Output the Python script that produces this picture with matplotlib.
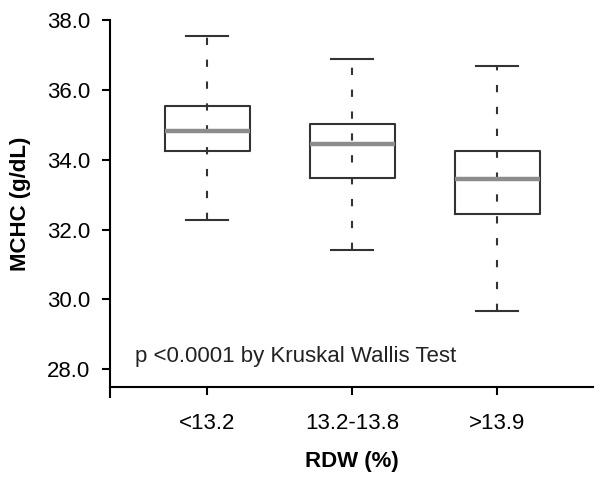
import matplotlib
matplotlib.use("Agg")
import matplotlib.pyplot as plt

# RDW groups and MCHC box statistics (g/dL)
groups = ["<13.2", "13.2-13.8", ">13.9"]
whisker_low = [32.27, 31.41, 29.67]
q1 = [34.26, 33.47, 32.43]
median = [34.82, 34.44, 33.45]
q3 = [35.54, 35.03, 34.26]
whisker_high = [37.54, 36.89, 36.69]
yticks = [28, 30, 32, 34, 36, 38]

plt.rcParams["font.family"] = ["Liberation Sans", "DejaVu Sans"]

fig = plt.figure(figsize=(6.04, 4.82), dpi=100)
ax = fig.add_axes([0.1821, 0.1971, 0.7997, 0.7614])

positions = [1, 2, 3]
stats = []
for i, name in enumerate(groups):
    stats.append({
        "label": name,
        "whislo": whisker_low[i],
        "q1": q1[i],
        "med": median[i],
        "q3": q3[i],
        "whishi": whisker_high[i],
        "fliers": [],
    })

# dashed whisker runs behind the (unfilled) box
ax.vlines(positions, whisker_low, whisker_high, colors="#333333",
          linewidth=1.5, linestyles=(0, (3.5, 7)), zorder=1)

ax.bxp(stats, positions=positions, widths=0.586, capwidths=0.29,
       showfliers=False,
       boxprops=dict(color="#333333", linewidth=1.5),
       medianprops=dict(color="#8c8c8c", linewidth=3.2),
       whiskerprops=dict(linewidth=0),
       capprops=dict(color="#333333", linewidth=1.5))

ax.set_xlim(0.33, 3.66)
ax.set_ylim(27.49, 38)
ax.set_yticks(yticks)
ax.set_yticklabels([f"{v:.1f}" for v in yticks])
ax.set_xticks(positions)
ax.set_xticklabels(groups)

for side in ["top", "right"]:
    ax.spines[side].set_visible(False)
for side in ["left", "bottom"]:
    ax.spines[side].set_linewidth(1.5)
ax.spines["left"].set_bounds(27.2, 38)

ax.tick_params(axis="both", direction="out", length=6, width=1.5,
               labelsize=16, colors="black")
ax.tick_params(axis="y", pad=8)
ax.tick_params(axis="x", pad=13)

ax.set_ylabel("MCHC (g/dL)", fontsize=16, fontweight="bold", labelpad=12)
ax.set_xlabel("RDW (%)", fontsize=16, fontweight="bold", labelpad=12)

ax.text(0.50, 28.21, "p <0.0001 by Kruskal Wallis Test", fontsize=16,
        color="#222222", va="baseline")

fig.savefig("out.png", dpi=100)
